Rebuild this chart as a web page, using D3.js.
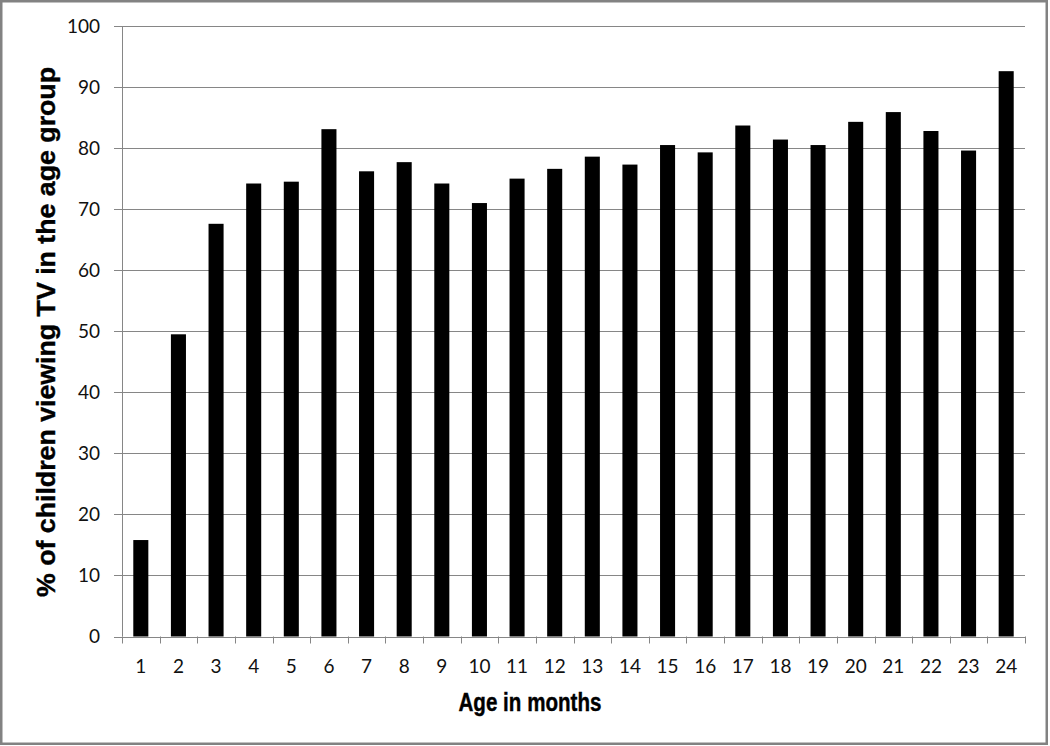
<!DOCTYPE html>
<html>
<head>
<meta charset="utf-8">
<script src="https://cdn.jsdelivr.net/npm/d3@7"></script>
<style>
  html, body { margin: 0; padding: 0; background: #fff; }
  svg { display: block; }
</style>
</head>
<body>
<svg id="chart" width="1050" height="746"></svg>
<script>
const categories = ["1","2","3","4","5","6","7","8","9","10","11","12","13","14","15","16","17","18","19","20","21","22","23","24"];
const values = [15.8, 49.5, 67.6, 74.2, 74.5, 83.1, 76.2, 77.7, 74.2, 71.0, 75.0, 76.6, 78.6, 77.3, 80.5, 79.3, 83.7, 81.4, 80.5, 84.3, 85.9, 82.8, 79.6, 92.6];
const yTicks = [0, 10, 20, 30, 40, 50, 60, 70, 80, 90, 100];
const xTitle = "Age in months";
const yTitle = "% of children viewing TV in the age group";

const svg = d3.select("#chart");
const m = { left: 122, right: 1025, top: 26, bottom: 636.5 };

// outer border
svg.append("rect")
  .attr("x", 1.25).attr("y", 1.25)
  .attr("width", 1045.5).attr("height", 742.5)
  .attr("fill", "#fff")
  .attr("stroke", "#828282").attr("stroke-width", 2.5);

const x = d3.scaleBand().domain(categories).range([m.left, m.right]).paddingInner(0.6).paddingOuter(0.3);
const xEdge = d3.scaleLinear().domain([0, categories.length]).range([m.left, m.right]);
const y = d3.scaleLinear().domain([0, 100]).range([m.bottom, m.top]);

// gridlines + y tick labels
const gy = svg.append("g").attr("transform", `translate(${m.left},0)`);
gy.selectAll("line.grid").data(yTicks).enter().append("line")
  .attr("x1", -8).attr("x2", m.right - m.left)
  .attr("y1", d => Math.round(y(d)) + 0.5).attr("y2", d => Math.round(y(d)) + 0.5)
  .attr("stroke", "#868686").attr("stroke-width", 1);
gy.selectAll("text").data(yTicks).enter().append("text")
  .attr("x", -22).attr("y", d => y(d))
  .attr("dy", "0.36em")
  .attr("text-anchor", "end")
  .attr("font-family", "Lato, 'Open Sans', sans-serif")
  .attr("font-size", 19)
  .attr("fill", "#111")
  .text(d => d);
// y axis line
svg.append("line")
  .attr("x1", m.left + 0.5).attr("x2", m.left + 0.5)
  .attr("y1", m.top).attr("y2", m.bottom)
  .attr("stroke", "#868686").attr("stroke-width", 1);

// x axis ticks at category boundaries
const edges = d3.range(categories.length + 1);
svg.append("g").selectAll("line").data(edges).enter().append("line")
  .attr("x1", d => Math.round(xEdge(d)) + 0.5).attr("x2", d => Math.round(xEdge(d)) + 0.5)
  .attr("y1", m.bottom).attr("y2", m.bottom + 7)
  .attr("stroke", "#868686").attr("stroke-width", 1);

// bars
svg.append("g").selectAll("rect").data(values).enter().append("rect")
  .attr("x", (d, i) => x(categories[i]))
  .attr("width", x.bandwidth())
  .attr("y", d => y(d))
  .attr("height", d => y(0) - y(d))
  .attr("fill", "#000");

// x tick labels
svg.append("g").selectAll("text").data(categories).enter().append("text")
  .attr("x", d => x(d) + x.bandwidth() / 2)
  .attr("y", 673)
  .attr("text-anchor", "middle")
  .attr("font-family", "Lato, 'Open Sans', sans-serif")
  .attr("font-size", 19)
  .attr("fill", "#111")
  .text(d => d);

// x axis title
svg.append("text")
  .attr("x", 530).attr("y", 711)
  .attr("text-anchor", "middle")
  .attr("font-family", "'Liberation Sans', Arial, sans-serif")
  .attr("font-weight", "bold")
  .attr("font-size", 25)
  .attr("textLength", 143)
  .attr("lengthAdjust", "spacingAndGlyphs")
  .attr("fill", "#000")
  .attr("stroke", "#000").attr("stroke-width", 0.4)
  .text(xTitle);

// y axis title
svg.append("text")
  .attr("transform", "translate(55,332) rotate(-90)")
  .attr("text-anchor", "middle")
  .attr("font-family", "'Liberation Sans', Arial, sans-serif")
  .attr("font-weight", "bold")
  .attr("font-size", 26)
  .attr("textLength", 530)
  .attr("lengthAdjust", "spacingAndGlyphs")
  .attr("fill", "#000")
  .attr("stroke", "#000").attr("stroke-width", 0.4)
  .text(yTitle);
</script>
</body>
</html>
